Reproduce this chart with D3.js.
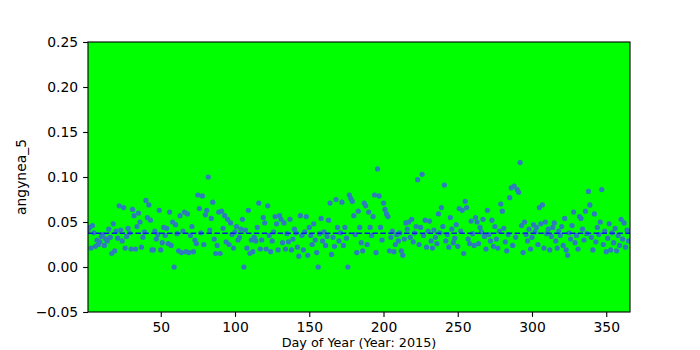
<!DOCTYPE html>
<html>
<head>
<meta charset="utf-8">
<script src="https://cdn.jsdelivr.net/npm/d3@7"></script>
<style>
  body { margin: 0; background: #fff; }
  text { font-family: "DejaVu Sans", sans-serif; }
</style>
</head>
<body>
<svg id="chart" width="700" height="350"></svg>
<script>
// valeurs, un point par jour
const yearLabel = 2015;
const seriesName = 'angynea_5';
const values = [
  // jours 1-52
  0.041, 0.044, 0.021, 0.046, 0.038, 0.023, 0.030, 0.025, 0.028, 0.034, 0.036, 0.024, 0.031,
  0.029, 0.042, 0.033, 0.015, 0.048, 0.018, 0.040, 0.032, 0.068, 0.041, 0.029, 0.066, 0.021,
  0.034, 0.043, 0.038, 0.020, 0.064, 0.057, 0.020, 0.045, 0.060, 0.050, 0.022, 0.033, 0.039,
  0.074, 0.055, 0.069, 0.052, 0.019, 0.019, 0.040, 0.031, 0.036, 0.063, 0.019, 0.027, 0.044,
  // jours 53-104
  0.035, 0.043, 0.026, 0.061, 0.024, 0.050, 0.000, 0.047, 0.037, 0.018, 0.057, 0.016, 0.040,
  0.061, 0.017, 0.059, 0.016, 0.035, 0.045, 0.017, 0.030, 0.026, 0.080, 0.065, 0.038, 0.079,
  0.025, 0.058, 0.063, 0.100, 0.041, 0.054, 0.072, 0.031, 0.015, 0.024, 0.061, 0.015, 0.062,
  0.043, 0.057, 0.028, 0.053, 0.025, 0.049, 0.036, 0.021, 0.039, 0.045, 0.030, 0.033, 0.042,
  // jours 105-157
  0.053, 0.000, 0.041, 0.021, 0.063, 0.015, 0.030, 0.017, 0.033, 0.029, 0.044, 0.071, 0.020,
  0.030, 0.055, 0.049, 0.020, 0.068, 0.035, 0.017, 0.029, 0.039, 0.056, 0.048, 0.019, 0.057,
  0.053, 0.027, 0.049, 0.020, 0.037, 0.028, 0.053, 0.019, 0.031, 0.042, 0.038, 0.022, 0.012,
  0.057, 0.035, 0.019, 0.039, 0.056, 0.013, 0.044, 0.035, 0.025, 0.048, 0.030, 0.016, 0.000, 0.037,
  // jours 158-210
  0.054, 0.029, 0.039, 0.024, 0.034, 0.052, 0.071, 0.014, 0.033, 0.023, 0.075, 0.044, 0.029,
  0.038, 0.072, 0.024, 0.044, 0.032, 0.000, 0.080, 0.076, 0.073, 0.057, 0.036, 0.016, 0.062,
  0.044, 0.027, 0.018, 0.071, 0.068, 0.025, 0.061, 0.044, 0.035, 0.056, 0.080, 0.016, 0.109,
  0.079, 0.044, 0.030, 0.071, 0.064, 0.059, 0.056, 0.018, 0.033, 0.040, 0.017, 0.025, 0.036, 0.029,
  // jours 211-262
  0.038, 0.018, 0.013, 0.031, 0.049, 0.042, 0.050, 0.033, 0.053, 0.028, 0.038, 0.045, 0.097,
  0.025, 0.044, 0.103, 0.035, 0.052, 0.022, 0.040, 0.051, 0.029, 0.021, 0.041, 0.033, 0.026,
  0.059, 0.038, 0.066, 0.045, 0.091, 0.029, 0.036, 0.022, 0.055, 0.042, 0.027, 0.032, 0.047,
  0.023, 0.065, 0.040, 0.063, 0.015, 0.073, 0.066, 0.031, 0.026, 0.051, 0.037, 0.024, 0.055,
  // jours 263-314
  0.050, 0.026, 0.044, 0.039, 0.053, 0.034, 0.020, 0.063, 0.036, 0.029, 0.052, 0.023, 0.045,
  0.031, 0.021, 0.040, 0.070, 0.062, 0.043, 0.028, 0.018, 0.036, 0.077, 0.088, 0.024, 0.090,
  0.033, 0.086, 0.083, 0.116, 0.046, 0.016, 0.050, 0.036, 0.029, 0.042, 0.020, 0.033, 0.047,
  0.039, 0.044, 0.025, 0.066, 0.048, 0.069, 0.021, 0.050, 0.037, 0.042, 0.019, 0.034, 0.044,
  // jours 315-365
  0.049, 0.029, 0.021, 0.040, 0.035, 0.045, 0.024, 0.054, 0.019, 0.013, 0.038, 0.031, 0.046,
  0.061, 0.027, 0.035, 0.020, 0.056, 0.054, 0.042, 0.030, 0.062, 0.037, 0.084, 0.069, 0.033,
  0.019, 0.059, 0.028, 0.044, 0.036, 0.050, 0.086, 0.025, 0.040, 0.017, 0.032, 0.048, 0.019,
  0.038, 0.027, 0.043, 0.018, 0.035, 0.024, 0.053, 0.031, 0.049, 0.022, 0.041, 0.029
];
const days = values.map((v, i) => i + 1);
const meanValue = 0.0375;
const xTicks = [50, 100, 150, 200, 250, 300, 350];
const yTicks = [-0.05, 0.00, 0.05, 0.10, 0.15, 0.20, 0.25];

const margin = {top: 42, right: 70, bottom: 38, left: 88};
const width = 700, height = 350;
const svg = d3.select('#chart');

const x = d3.scaleLinear().domain([1, 366]).range([margin.left, width - margin.right]);
const y = d3.scaleLinear().domain([-0.05, 0.25]).range([height - margin.bottom, margin.top]);

//Fond du cadre
svg.append('rect')
    .attr('x', margin.left).attr('y', margin.top)
    .attr('width', x.range()[1] - x.range()[0])
    .attr('height', y.range()[0] - y.range()[1])
    .attr('fill', '#00ff00');

svg.append('clipPath').attr('id', 'plot-clip')
    .append('rect')
    .attr('x', margin.left).attr('y', margin.top)
    .attr('width', x.range()[1] - x.range()[0])
    .attr('height', y.range()[0] - y.range()[1]);

//Points
const plot = svg.append('g').attr('clip-path', 'url(#plot-clip)');
plot.append('g')
    .selectAll('circle')
    .data(days)
    .enter()
    .append('circle')
        .attr('cx', (d) => x(d))
        .attr('cy', (d, i) => y(values[i]))
        .attr('r', 2.6)
        .attr('fill', '#2d7cbc');

//Moyenne
plot.append('line')
    .attr('x1', x.range()[0]).attr('x2', x.range()[1])
    .attr('y1', y(meanValue)).attr('y2', y(meanValue))
    .attr('stroke', '#0b1ee0')
    .attr('stroke-width', 1.5)
    .attr('stroke-dasharray', '5.5,2.4');

//Axes
const minus = (s) => s.replace('-', '\u2212');
const xAxis = svg.append('g')
    .attr('transform', `translate(0,${y.range()[0]})`)
    .call(d3.axisBottom(x).tickValues(xTicks).tickSize(4.9).tickPadding(4.9).tickSizeOuter(0));
const yAxis = svg.append('g')
    .attr('transform', `translate(${margin.left},0)`)
    .call(d3.axisLeft(y).tickValues(yTicks).tickSize(4.9).tickPadding(4.9).tickSizeOuter(0)
        .tickFormat((d) => minus(d3.format('.2f')(d))));
[xAxis, yAxis].forEach((a) => {
    a.select('.domain').remove();
    a.selectAll('line').attr('stroke', '#000').attr('stroke-width', 1.1);
    a.selectAll('text').attr('fill', '#000').style('font-size', '13.9px').style('font-family', '"DejaVu Sans", sans-serif');
});

//Cadre
svg.append('rect')
    .attr('x', margin.left).attr('y', margin.top)
    .attr('width', x.range()[1] - x.range()[0])
    .attr('height', y.range()[0] - y.range()[1])
    .attr('fill', 'none')
    .attr('stroke', '#000')
    .attr('stroke-width', 1.1);

//Titres des axes (x un peu plus petit pour tenir entre les graduations et le bord)
svg.append('text')
    .attr('x', (x.range()[0] + x.range()[1]) / 2)
    .attr('y', 347)
    .attr('text-anchor', 'middle')
    .style('font-size', '12.8px')
    .text(`Day of Year (Year: ${yearLabel})`);
svg.append('text')
    .attr('transform', `translate(26,${(y.range()[0] + y.range()[1]) / 2}) rotate(-90)`)
    .attr('text-anchor', 'middle')
    .style('font-size', '13.9px')
    .text(seriesName);
</script>
</body>
</html>
